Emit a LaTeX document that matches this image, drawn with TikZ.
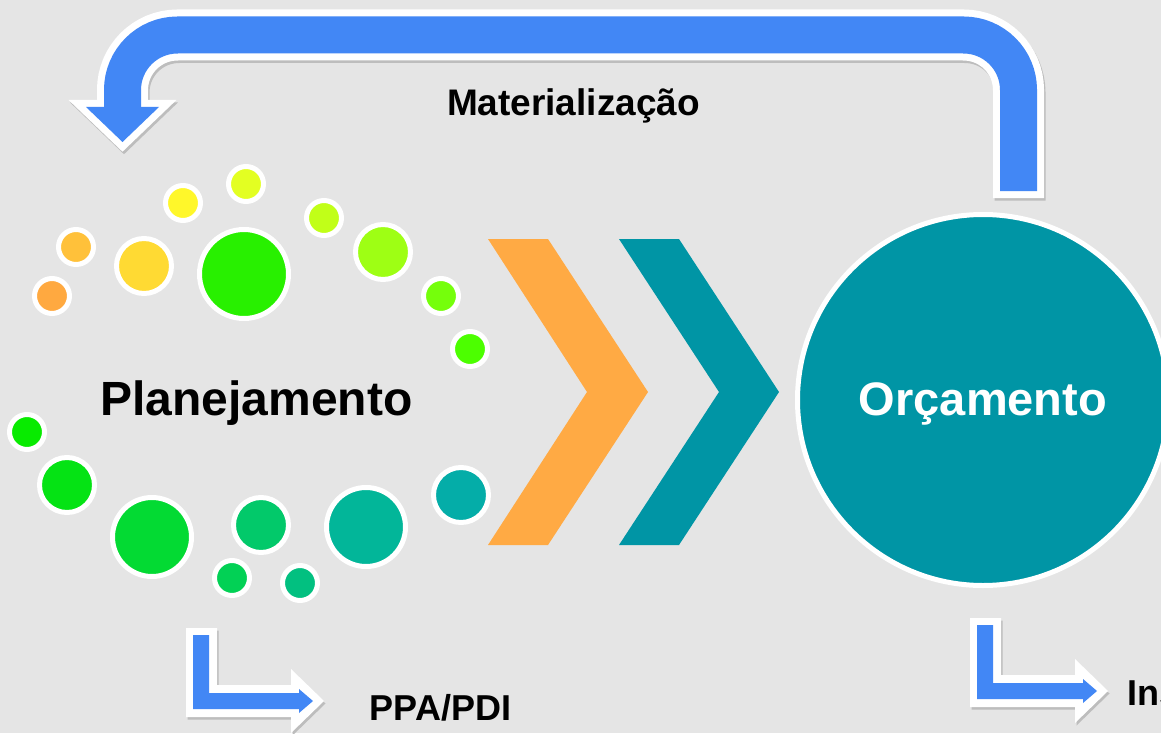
\documentclass[tikz,border=0pt]{standalone}
\usepackage{fontspec}
\setmainfont{Liberation Sans}
\definecolor{bg}{HTML}{E5E5E5}
\definecolor{ablue}{HTML}{4287F5}
\definecolor{shadowc}{HTML}{BDBDBD}
\definecolor{tealc}{HTML}{0095A5}
\definecolor{orng}{HTML}{FFAA44}
\definecolor{c1}{HTML}{FFA940}
\definecolor{c2}{HTML}{FFC13A}
\definecolor{c3}{HTML}{FFDA33}
\definecolor{c4}{HTML}{FFF72A}
\definecolor{c5}{HTML}{E3FF22}
\definecolor{c6}{HTML}{28F000}
\definecolor{c7}{HTML}{C1FF18}
\definecolor{c8}{HTML}{9EFF14}
\definecolor{c9}{HTML}{75FF0B}
\definecolor{c10}{HTML}{4CFF00}
\definecolor{c11}{HTML}{08EB00}
\definecolor{c12}{HTML}{05E314}
\definecolor{c13}{HTML}{03DA33}
\definecolor{c14}{HTML}{02C96A}
\definecolor{c15}{HTML}{02D155}
\definecolor{c16}{HTML}{02C080}
\definecolor{c17}{HTML}{02B699}
\definecolor{c18}{HTML}{04ADA8}
\begin{document}
\begin{tikzpicture}[x=1pt,y=-1pt,
  bubble/.style={circle, draw=white, line width=5pt, inner sep=0pt},
  sbub/.style={bubble, minimum size=35pt},
  mbub/.style={bubble, minimum size=55pt},
  lbub/.style={bubble, minimum size=79pt},
  lbl/.style={inner sep=0pt, anchor=base},
  band/.style={line width=#1, rounded corners=55pt, line cap=butt},
  headw/.style={line width=14pt, line join=miter}]
\clip (0,0) rectangle (1161,733);
\fill[bg] (0,0) rectangle (1161,733);

% ---- top feedback arrow (Materialização)
\begin{scope}[shift={(1.5,2.5)}]
  \draw[shadowc, band=51pt] (1018.5,198) -- (1018.5,35) -- (122.5,35) -- (122.5,107);
  \filldraw[shadowc, headw] (86,107) -- (122.5,142) -- (159,107) -- cycle;
\end{scope}
\draw[white, band=51pt] (1018.5,198) -- (1018.5,35) -- (122.5,35) -- (122.5,107);
\filldraw[white, headw] (86,107) -- (122.5,142) -- (159,107) -- cycle;
\draw[ablue, band=37pt] (1018.5,191) -- (1018.5,35) -- (122.5,35) -- (122.5,108);
\fill[ablue] (86,107) -- (122.5,142) -- (159,107) -- cycle;

% ---- L arrows
\foreach \dx/\dy in {0/0, 784/-10}{
  \begin{scope}[shift={(\dx,\dy)}]
    \fill[shadowc] (187.5,630.5) -- (218.5,630.5) -- (218.5,687.5) -- (292.5,687.5) -- (292.5,671.5)
       -- (325.5,703.5) -- (292.5,735.5) -- (292.5,719.5) -- (187.5,719.5) -- cycle;
    \fill[white] (186,628) -- (217,628) -- (217,685) -- (291,685) -- (291,669)
       -- (324,701) -- (291,733) -- (291,717) -- (186,717) -- cycle;
    \fill[ablue] (193,635) -- (209,635) -- (209,693) -- (299,693) -- (299,689)
       -- (313,701) -- (299,713) -- (299,709) -- (193,709) -- cycle;
  \end{scope}
}

% ---- chevrons
\fill[orng] (488,239) -- (548,239) -- (648,392) -- (548,545) -- (488,545) -- (587,392) -- cycle;
\fill[tealc] (619,239) -- (679,239) -- (779,392) -- (679,545) -- (619,545) -- (719,392) -- cycle;

% ---- bubbles
\node[sbub, fill=c1] (b1) at (52,296) {};
\node[sbub, fill=c2] (b2) at (76,247) {};
\node[mbub, fill=c3] (b3) at (144,266) {};
\node[sbub, fill=c4] (b4) at (183,203) {};
\node[sbub, fill=c5] (b5) at (246,184) {};
\node[bubble, minimum size=89pt, fill=c6] (b6) at (244,274) {};
\node[sbub, fill=c7] (b7) at (324,218) {};
\node[mbub, fill=c8] (b8) at (383,252) {};
\node[sbub, fill=c9] (b9) at (441,296) {};
\node[sbub, fill=c10] (b10) at (470,349) {};
\node[sbub, fill=c11] (b11) at (27,432) {};
\node[mbub, fill=c12] (b12) at (67,485) {};
\node[lbub, fill=c13] (b13) at (152,537) {};
\node[mbub, fill=c14] (b14) at (261,525) {};
\node[sbub, fill=c15] (b15) at (232,578) {};
\node[sbub, fill=c16] (b16) at (300,583) {};
\node[lbub, fill=c17] (b17) at (366,527) {};
\node[mbub, fill=c18] (b18) at (461,495) {};

% ---- Orçamento circle
\node[circle, draw=white, line width=5pt, fill=tealc, inner sep=0pt, minimum size=371pt] (orc) at (983,400) {};

% ---- labels
\node[lbl, font=\bfseries\fontsize{48pt}{50pt}\selectfont] (plan) at (256.5,415) {Planejamento};
\node[lbl, white, font=\bfseries\fontsize{47pt}{50pt}\selectfont] (orct) at (983,415) {Orçamento};
\node[lbl, font=\bfseries\fontsize{37pt}{40pt}\selectfont] (mat) at (573.5,116) {Materialização};
\node[lbl, font=\bfseries\fontsize{36pt}{40pt}\selectfont] (ppa) at (440.5,720) {PPA/PDI};
\node[lbl, anchor=base west, font=\bfseries\fontsize{36pt}{40pt}\selectfont] (ins) at (1127,705) {Ins};
\end{tikzpicture}
\end{document}
